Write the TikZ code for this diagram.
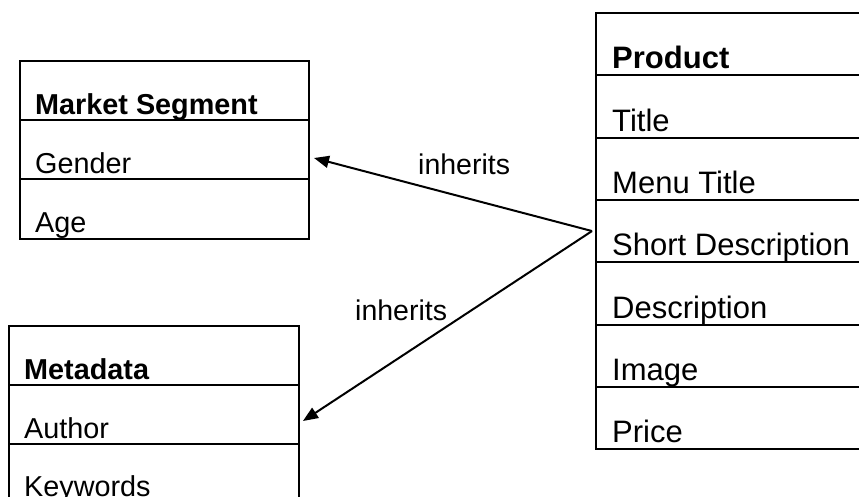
\documentclass[tikz,border=0pt]{standalone}
\usepackage{fontspec}
\setmainfont{Liberation Sans}
\usetikzlibrary{calc,arrows.meta}
\tikzset{
  rowbox/.style={draw, line width=2pt, anchor=north west, inner sep=0pt, minimum width=#1},
  lrow/.style={rowbox=#1, minimum height=59pt},
  prow/.style={rowbox=280pt, minimum height=62.3pt},
  ltext/.style={anchor=base west, inner sep=0pt, font=\fontsize{28.8}{34}\selectfont},
  ptext/.style={anchor=base west, inner sep=0pt, font=\fontsize{31}{37}\selectfont},
  conn/.style={line width=2pt, -{Triangle[length=15pt,width=12pt]}},
  lab/.style={anchor=base west, inner sep=0pt, font=\fontsize{28.5}{34}\selectfont}
}
\begin{document}
\begin{tikzpicture}[x=1pt,y=-1pt]
\useasboundingbox (0,0) rectangle (859,497);
\clip (0,0) rectangle (859,497);
% Market Segment
\node[lrow=289pt] (ms1) at (19,60) {};
\node[lrow=289pt] (ms2) at (19,119) {};
\node[lrow=289pt] (ms3) at (19,178.5) {};
\node[ltext] (ms1t) at ($(ms1.south west)+(16,-6.5)$) {\bfseries Market Segment};
\node[ltext] (ms2t) at ($(ms2.south west)+(16,-6.5)$) {Gender};
\node[ltext] (ms3t) at ($(ms3.south west)+(16,-6.5)$) {Age};
% Metadata
\node[lrow=290pt] (md1) at (8,325) {};
\node[lrow=290pt] (md2) at (8,384) {};
\node[lrow=290pt] (md3) at (8,443) {};
\node[ltext] (md1t) at ($(md1.south west)+(16,-6.5)$) {\bfseries Metadata};
\node[ltext] (md2t) at ($(md2.south west)+(16,-6.5)$) {Author};
\node[ltext] (md3t) at ($(md3.south west)+(16,-8)$) {Keywords};
% Product
\node[prow] (p1) at (595,12) {};
\node[prow] (p2) at (595,74.3) {};
\node[prow] (p3) at (595,136.6) {};
\node[prow] (p4) at (595,198.9) {};
\node[prow] (p5) at (595,261.2) {};
\node[prow] (p6) at (595,323.5) {};
\node[prow] (p7) at (595,385.8) {};
\node[ptext] (p1t) at ($(p1.south west)+(17,-7.5)$) {\bfseries Product};
\node[ptext] (p2t) at ($(p2.south west)+(17,-7.5)$) {Title};
\node[ptext] (p3t) at ($(p3.south west)+(17,-7.5)$) {Menu Title};
\node[ptext] (p4t) at ($(p4.south west)+(17,-7.5)$) {Short Description};
\node[ptext] (p5t) at ($(p5.south west)+(17,-7.5)$) {Description};
\node[ptext] (p6t) at ($(p6.south west)+(17,-7.5)$) {Image};
\node[ptext] (p7t) at ($(p7.south west)+(17,-7.5)$) {Price};
% connectors
\coordinate (src) at ($(p4.west)+(-3,0)$);
\coordinate (t1) at (314,158);
\coordinate (t2) at (303,421);
\draw[conn] (src) -- (t1);
\draw[conn] (src) -- (t2);
\node[lab] (l1) at (418,175) {inherits};
\node[lab] (l2) at (355,320) {inherits};
\end{tikzpicture}
\end{document}
